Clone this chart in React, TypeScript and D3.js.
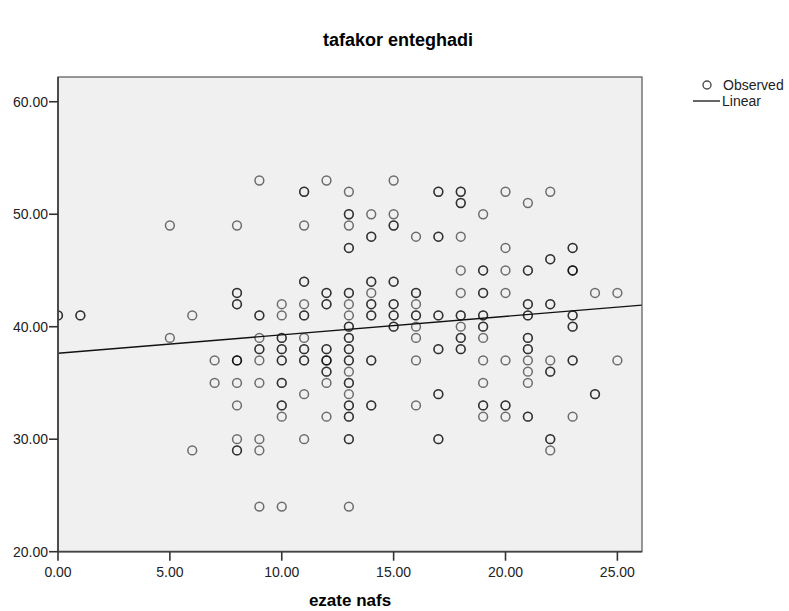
import React from "react";
import * as d3 from "d3";

const chartTitle = "tafakor enteghadi";
const xAxisTitle = "ezate nafs";
const legendLabels = ["Observed", "Linear"];

const xTicks = [0, 5, 10, 15, 20, 25];
const yTicks = [20, 30, 40, 50, 60];

// ezate nafs values (columns) and the tafakor enteghadi values observed at each
const xColumns = [0, 1, 5, 6, 7, 8, 9, 10, 11, 12, 13, 14, 15, 16, 17, 18, 19, 20, 21, 22, 23, 24, 25];
const yColumns: number[][] = [
  [41, 41],
  [41, 41],
  [49, 39],
  [41, 29],
  [37, 35],
  [49, 43, 43, 42, 42, 37, 37, 37, 35, 33, 30, 29, 29],
  [53, 41, 41, 39, 38, 38, 37, 35, 30, 29, 24],
  [42, 41, 39, 39, 38, 38, 37, 37, 35, 35, 33, 33, 32, 24],
  [52, 52, 49, 44, 44, 42, 41, 41, 39, 38, 38, 37, 37, 34, 30],
  [53, 43, 43, 42, 42, 38, 38, 37, 37, 37, 36, 36, 35, 32],
  [52, 50, 50, 49, 47, 47, 43, 43, 42, 41, 40, 40, 39, 39, 38, 38, 37, 37, 36, 35, 35, 34, 33, 33, 32, 32, 30, 30, 24],
  [50, 48, 48, 44, 44, 43, 42, 42, 41, 41, 37, 37, 33, 33],
  [53, 50, 49, 49, 44, 44, 42, 42, 41, 41, 40, 40],
  [48, 43, 43, 42, 41, 41, 40, 39, 37, 33],
  [52, 52, 48, 48, 41, 41, 38, 38, 34, 34, 30, 30],
  [52, 52, 51, 51, 48, 45, 43, 41, 41, 40, 39, 39, 38, 38],
  [50, 45, 45, 43, 43, 41, 41, 40, 40, 39, 37, 35, 33, 33, 32],
  [52, 47, 45, 43, 37, 33, 33, 32],
  [51, 45, 45, 42, 42, 41, 41, 39, 39, 38, 38, 37, 36, 35, 32, 32],
  [52, 46, 46, 42, 42, 37, 36, 36, 30, 30, 29],
  [47, 47, 45, 45, 45, 41, 41, 40, 40, 37, 37, 32],
  [43, 34, 34],
  [43, 37],
];

// fitted linear line
const linearIntercept = 37.64;
const linearSlope = 0.164;

const W = 789;
const H = 611;
const left = 58, right = 642, top = 77, bottom = 551.7;
const font = "'Liberation Sans', Arial, sans-serif";

export default function App() {
  const x = d3.scaleLinear().domain([0, 26.1]).range([left, right]);
  const y = d3.scaleLinear().domain([20, 62.2]).range([bottom, top]);
  const fmt = d3.format(".2f");

  const points: { xv: number; yv: number }[] = [];
  xColumns.forEach((xv, i) => yColumns[i].forEach((yv) => points.push({ xv, yv })));

  const xd = x.domain();
  const line = d3.line<number>().x((d) => x(d)).y((d) => y(linearIntercept + linearSlope * d));

  return (
    <svg width={W} height={H} style={{ position: "absolute", left: 0, top: 0, background: "#fff" }} fontFamily={font}>
      <defs>
        <clipPath id="plotClip">
          <rect x={left} y={top} width={right - left} height={bottom - top} />
        </clipPath>
      </defs>
      <text x={398} y={46} textAnchor="middle" fontSize={18} fontWeight="bold" fill="#000">{chartTitle}</text>
      <rect x={left} y={top} width={right - left} height={bottom - top} fill="#f0f0f0" />
      <g clipPath="url(#plotClip)">
        {points.map((p, i) => (
          <circle key={i} cx={x(p.xv)} cy={y(p.yv)} r={4.4} fill="none" stroke="#000" strokeOpacity={0.55} strokeWidth={1.5} />
        ))}
        <path d={line(xd) || ""} fill="none" stroke="#111" strokeWidth={1.4} />
      </g>
      <rect x={left} y={top} width={right - left} height={bottom - top} fill="none" stroke="#555" strokeWidth={1.2} />
      <line x1={left} x2={left} y1={top} y2={bottom} stroke="#444" strokeWidth={1.8} />
      <line x1={left} x2={right} y1={bottom} y2={bottom} stroke="#444" strokeWidth={1.8} />
      {yTicks.map((t) => (
        <g key={"y" + t}>
          <line x1={left - 9} x2={left} y1={y(t)} y2={y(t)} stroke="#333" strokeWidth={1.6} />
          <text x={left - 10} y={y(t)} dy="0.35em" textAnchor="end" fontSize={14} fill="#222">{fmt(t)}</text>
        </g>
      ))}
      {xTicks.map((t) => (
        <g key={"x" + t}>
          <line x1={x(t)} x2={x(t)} y1={bottom} y2={bottom + 9} stroke="#333" strokeWidth={1.6} />
          <text x={x(t)} y={bottom + 25} textAnchor="middle" fontSize={14} fill="#222">{fmt(t)}</text>
        </g>
      ))}
      <text x={(left + right) / 2} y={606} textAnchor="middle" fontSize={17} fontWeight="bold" fill="#000">{xAxisTitle}</text>
      <g>
        <circle cx={707} cy={85} r={4} fill="none" stroke="#000" strokeOpacity={0.7} strokeWidth={1.4} />
        <text x={723} y={85} dy="0.35em" fontSize={14} fill="#222">{legendLabels[0]}</text>
        <line x1={693} x2={720} y1={101} y2={101} stroke="#333" strokeWidth={1.5} />
        <text x={722} y={101} dy="0.35em" fontSize={14} fill="#222">{legendLabels[1]}</text>
      </g>
    </svg>
  );
}
